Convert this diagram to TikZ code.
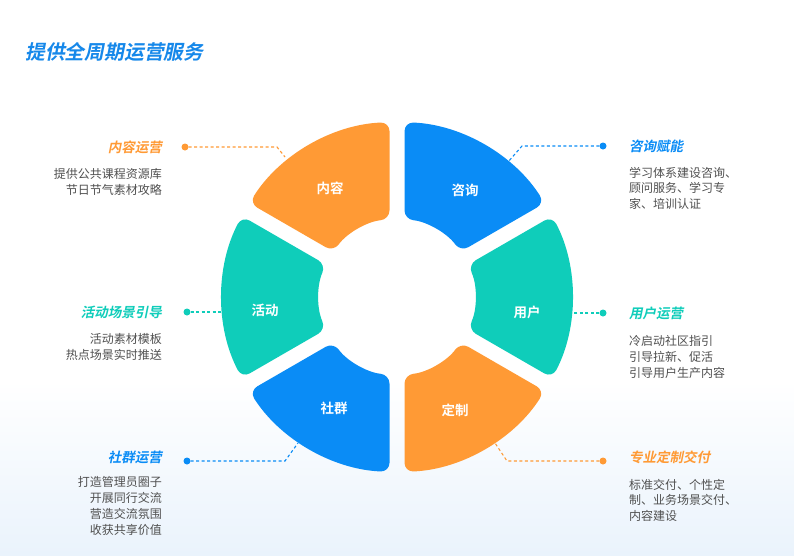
\documentclass[tikz,border=0pt]{standalone}
\usepackage{fontspec}
\setmainfont{Noto Sans CJK SC}
\newfontfamily\cjkbold{Noto Sans CJK SC Bold}
\newfontfamily\cjkhead{Noto Sans CJK SC Bold}[FakeSlant=0.2]
\usetikzlibrary{positioning,calc}
\definecolor{cblue}{HTML}{0A8CF6}
\definecolor{cteal}{HTML}{0FCDBA}
\definecolor{corange}{HTML}{FF9A35}
\definecolor{ctitle}{HTML}{1688EA}
\definecolor{ctext}{HTML}{505050}
\definecolor{cbg}{HTML}{EAF3FC}
\tikzset{
  seg/.style={rounded corners=9pt},
  seglabel/.style={text=white, font=\cjkbold\fontsize{13.5}{14}\selectfont, inner sep=0pt},
  head/.style={font=\cjkhead\fontsize{13.5}{15}\selectfont, inner sep=0pt},
  body/.style={font=\fontsize{12}{15.8}\selectfont, text=ctext, inner sep=0pt},
  leader/.style={line width=1.1pt, dash pattern=on 3pt off 2.5pt},
  dot/.style={circle, inner sep=0pt, minimum size=7pt}
}

\begin{document}
\begin{tikzpicture}[x=1pt, y=-1pt]
\useasboundingbox (0,0) rectangle (794,555);
\fill[white] (0,0) rectangle (794,380);
\shade[top color=white, bottom color=cbg] (0,380) rectangle (794,555);

% title
\node[font=\cjkhead\fontsize{19.8}{20}\selectfont, text=ctitle, anchor=west, inner sep=0pt] (title) at (25,52) {提供全周期运营服务};

% ring segments
\begin{scope}[shift={(397,297)}, yscale=-1]
\foreach \a/\b/\col in {30/90/cblue, -30/30/cteal, -90/-30/corange, -150/-90/cblue, 150/210/cteal, 90/150/corange}{
  \fill[seg, fill=\col] ({\a+2.46}:175) arc[start angle=\a+2.46, end angle=\b-2.46, radius=175]
    -- ({\b-5.52}:78) arc[start angle=\b-5.52, end angle=\a+5.52, radius=78] -- cycle;
}
\end{scope}

\node[seglabel] (sConsult) at (465,190) {咨询};
\node[seglabel] (sUser) at (527,312) {用户};
\node[seglabel] (sCustom) at (455,410) {定制};
\node[seglabel] (sGroup) at (334,408) {社群};
\node[seglabel] (sEvent) at (265,310) {活动};
\node[seglabel] (sContent) at (330,188) {内容};

% left column
\node[head, text=corange, anchor=east] (hContent) at (162,147) {内容运营};
\node[body, below=15pt of hContent.south east, anchor=north east, align=right] (bContent) {提供公共课程资源库\\节日节气素材攻略};
\node[head, text=cteal, anchor=east] (hEvent) at (162,312) {活动场景引导};
\node[body, below=15pt of hEvent.south east, anchor=north east, align=right] (bEvent) {活动素材模板\\热点场景实时推送};
\node[head, text=cblue, anchor=east] (hGroup) at (162,457) {社群运营};
\node[body, below=13pt of hGroup.south east, anchor=north east, align=right] (bGroup) {打造管理员圈子\\开展同行交流\\营造交流氛围\\收获共享价值};

% right column
\node[head, text=cblue, anchor=west] (hConsult) at (629,146) {咨询赋能};
\node[body, below=14pt of hConsult.south west, anchor=north west, align=left] (bConsult) {学习体系建设咨询、\\顾问服务、学习专\\家、培训认证};
\node[head, text=cteal, anchor=west] (hUser) at (629,313) {用户运营};
\node[body, below=16pt of hUser.south west, anchor=north west, align=left] (bUser) {冷启动社区指引\\引导拉新、促活\\引导用户生产内容};
\node[head, text=corange, anchor=west] (hCustom) at (629,457) {专业定制交付};
\node[body, below=15pt of hCustom.south west, anchor=north west, align=left] (bCustom) {标准交付、个性定\\制、业务场景交付、\\内容建设};

% dots and leaders
\node[dot, fill=corange] (dContent) at (185,147) {};
\node[dot, fill=cteal] (dEvent) at (187,312) {};
\node[dot, fill=cblue] (dGroup) at (187,461) {};
\node[dot, fill=cblue] (dConsult) at (603,146) {};
\node[dot, fill=cteal] (dUser) at (603,313) {};
\node[dot, fill=corange] (dCustom) at (603,461) {};

\coordinate (kContent) at (277,147);
\coordinate (eContent) at (285,157);
\coordinate (eEvent) at (222,312);
\coordinate (kGroup) at (285,461);
\coordinate (eGroup) at (298,443);
\coordinate (kConsult) at (522,146);
\coordinate (eConsult) at (508,162);
\coordinate (eUser) at (572,313);
\coordinate (kCustom) at (507,461);
\coordinate (eCustom) at (495,443);

\draw[leader, draw=corange] (dContent) -- (kContent) -- (eContent);
\draw[leader, draw=cteal] (dEvent) -- (eEvent);
\draw[leader, draw=cblue] (dGroup) -- (kGroup) -- (eGroup);
\draw[leader, draw=cblue] (dConsult) -- (kConsult) -- (eConsult);
\draw[leader, draw=cteal] (dUser) -- (eUser);
\draw[leader, draw=corange] (dCustom) -- (kCustom) -- (eCustom);
\end{tikzpicture}
\end{document}
